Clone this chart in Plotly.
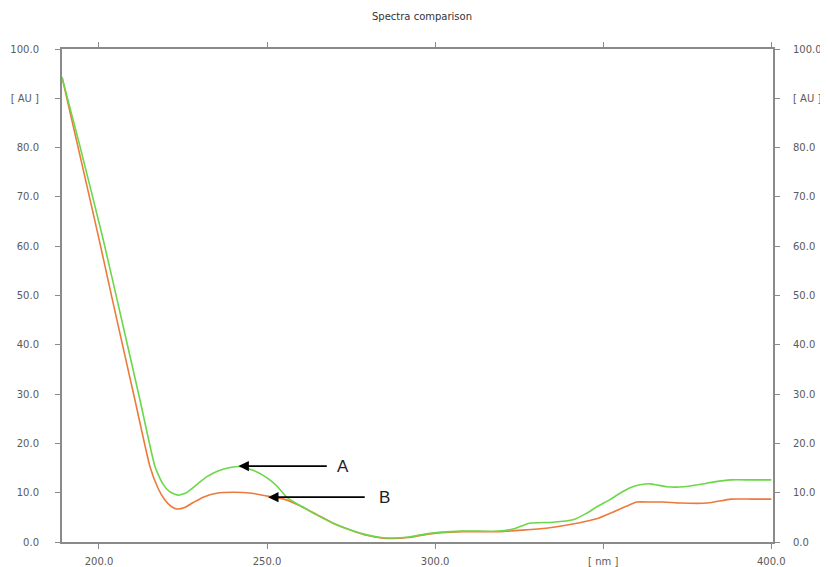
import plotly.graph_objects as go

# Series A (green)
wl_a = [189, 194.1, 201.2, 205.4, 212.2, 216.7, 219, 221, 223.5, 226, 229, 232, 235.4, 239, 242,
        246, 250, 253, 256, 260, 265, 270, 275, 280, 284, 287.5, 292, 297, 302, 308, 313, 319, 324, 328, 335, 341,
        345, 348, 352, 355, 358, 361, 364, 369, 374, 379, 383, 388, 394, 400]
abs_a = [94.3, 80.9, 61.5, 49.1, 28.8, 15.2, 11.8, 10.2, 9.5, 10.0, 11.6, 13.2, 14.4, 15.1, 15.3,
         14.5, 13.0, 11.3, 9.0, 7.3, 5.4, 3.7, 2.4, 1.4, 0.9, 0.8, 1.0, 1.6, 2.0, 2.2, 2.2, 2.2, 2.8, 3.8, 4.0, 4.5,
         5.8, 7.1, 8.6, 9.9, 11.0, 11.6, 11.8, 11.2, 11.2, 11.7, 12.2, 12.6, 12.6, 12.6]

# Series B (orange)
wl_b = [189, 193.5, 200, 204, 210.7, 215.2, 217.5, 219.5, 221.5, 223.2, 225.5, 228, 231, 235, 240,
        245.5, 250, 255, 260, 265, 270, 275, 280, 284, 287.5, 292, 297, 302, 308, 313, 319, 326, 333, 343, 348,
        353, 357, 360, 364, 368, 373, 381, 388, 394, 400]
abs_b = [94.3, 80.9, 61.5, 49.1, 28.8, 15.2, 11.0, 8.6, 7.2, 6.7, 7.0, 8.0, 9.1, 9.9, 10.1,
         9.9, 9.3, 8.7, 7.3, 5.5, 3.7, 2.4, 1.3, 0.8, 0.7, 0.9, 1.5, 1.9, 2.1, 2.1, 2.1, 2.4, 2.8, 3.9, 4.7,
         6.1, 7.3, 8.1, 8.1, 8.1, 7.9, 7.9, 8.7, 8.7, 8.7]

# Axis ticks
x_tickvals = [200, 250, 300, 350, 400]
x_ticktext = ["200.0", "250.0", "300.0", "[ nm ]", "400.0"]
y_tickvals = [0, 10, 20, 30, 40, 50, 60, 70, 80, 90, 100]
y_ticktext = ["0.0", "10.0", "20.0", "30.0", "40.0", "50.0", "60.0", "70.0", "80.0", "[ AU ]", "100.0"]

# Arrow annotations: label, head (x, y), tail x, label x
labels = ["A", "B"]
head_x = [241.5, 250.3]
head_y = [15.4, 9.1]
tail_x = [268.2, 279.5]
label_x = [270.2, 282.7]

fig = go.Figure()
fig.add_trace(go.Scatter(x=wl_b, y=abs_b, mode="lines",
                         line=dict(color="#ec7a3c", width=1.6, shape="spline", smoothing=0.5),
                         showlegend=False, hoverinfo="skip"))
fig.add_trace(go.Scatter(x=wl_a, y=abs_a, mode="lines",
                         line=dict(color="#6ad848", width=1.6, shape="spline", smoothing=0.5),
                         showlegend=False, hoverinfo="skip"))
# invisible trace for the right axis
fig.add_trace(go.Scatter(x=[wl_a[0]], y=[abs_a[0]], yaxis="y2", mode="markers", marker=dict(opacity=0),
                         showlegend=False, hoverinfo="skip"))

for lab, hx, hy, tx, lx in zip(labels, head_x, head_y, tail_x, label_x):
    fig.add_annotation(x=hx, y=hy, ax=tx, ay=hy, xref="x", yref="y", axref="x", ayref="y",
                       showarrow=True, arrowhead=2, arrowsize=1.3, arrowwidth=1.6, arrowcolor="black", text="")
    fig.add_annotation(x=lx, y=hy, xref="x", yref="y", text=lab, showarrow=False,
                       font=dict(family="Liberation Sans, Arial", size=17, color="#222"),
                       xanchor="left", yanchor="middle")

tickfont = dict(family="DejaVu Sans", size=10, color="#5a5a5a")
axis_common = dict(showgrid=False, zeroline=False, showline=True, linecolor="#8a8a8a", linewidth=2,
                   ticks="outside", ticklen=5, tickcolor="#8a8a8a", tickwidth=1, tickfont=tickfont,
                   automargin=False)

# page body has an 8px margin, so the figure is 820x559 to fill the 828x567 window
fig.update_layout(
    width=820, height=559,
    margin=dict(l=54, r=55, t=41, b=25),
    paper_bgcolor="white", plot_bgcolor="white",
    title=dict(text="Spectra comparison", x=414 / 820, xanchor="center", y=1 - 8 / 559, yanchor="middle",
               font=dict(family="DejaVu Sans", size=10, color="#333")),
    xaxis=dict(range=[189, 400.5], tickvals=x_tickvals, ticktext=x_ticktext, mirror="allticks",
               ticklabelstandoff=4, **axis_common),
    yaxis=dict(range=[0, 100], tickvals=y_tickvals, ticktext=y_ticktext, mirror="allticks",
               ticklabelstandoff=14, **axis_common),
    yaxis2=dict(range=[0, 100], tickvals=y_tickvals, ticktext=y_ticktext, overlaying="y", side="right",
                ticklabelstandoff=11, **axis_common),
)

fig.write_html("out.html")
